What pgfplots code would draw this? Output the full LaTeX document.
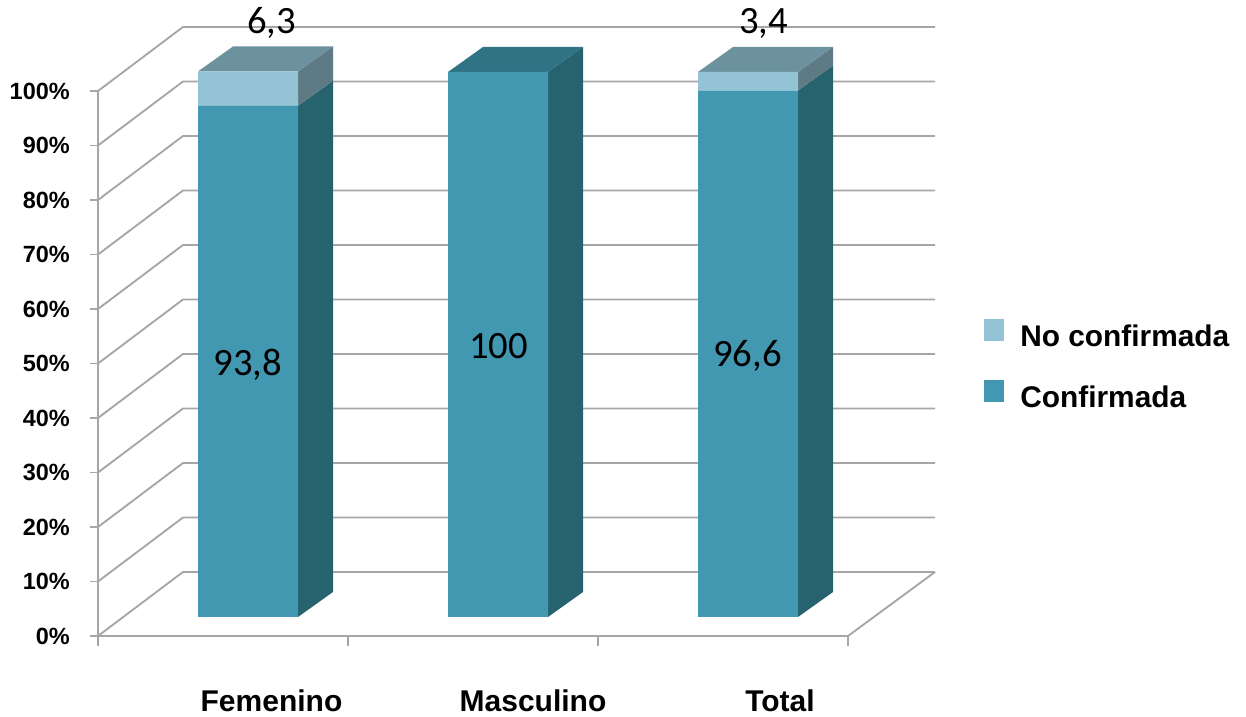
\documentclass[border=0pt]{standalone}
\usepackage{pgfplots}
\pgfplotsset{compat=1.18}
\usepackage{fontspec}
\setmainfont{Liberation Sans}
\newfontfamily\calib{Carlito}
\definecolor{confF}{RGB}{66,151,177}
\definecolor{confS}{RGB}{39,98,111}
\definecolor{confT}{RGB}{48,115,132}
\definecolor{ncF}{RGB}{147,195,213}
\definecolor{ncS}{RGB}{94,123,133}
\definecolor{ncT}{RGB}{108,146,159}
\definecolor{gridc}{RGB}{166,166,166}
\begin{document}
\begin{tikzpicture}
\pgfplotsset{base/.style={hide axis, scale only axis, width=934.5pt, height=537.75pt,
  xmin=0, xmax=1246, ymin=-18.349, ymax=113.211, clip=false}}
\begin{axis}[base]
\path (axis cs:0,-18.349) rectangle (axis cs:1246,113.211);
% walls and floor
\pgfplotsinvokeforeach{0,10,...,100}{
  \draw[gridc, line width=1.4pt] (axis cs:98,{-3.486+#1}) -- (axis cs:183,{8.257+#1}) -- (axis cs:935,{8.257+#1});
  \draw[gridc, line width=1.4pt] (axis cs:90,{-3.486+#1}) -- (axis cs:98,{-3.486+#1});
  \node[anchor=east, inner sep=0pt, font=\bfseries\fontsize{17.6}{20}\selectfont] at (axis cs:70,{-3.486+#1}) {#1\%};
}
\draw[gridc, line width=1.4pt] (axis cs:98,96.514) -- (axis cs:98,-3.486) -- (axis cs:848,-3.486) -- (axis cs:935,8.257);
\pgfplotsinvokeforeach{98,348,598,848}{
  \draw[gridc, line width=1.4pt] (axis cs:#1,-3.486) -- (axis cs:#1,-5.32);
}
% category labels
\node[anchor=base, inner sep=0pt, font=\bfseries\fontsize{22.5}{26}\selectfont] at (axis cs:271.5,-17.43) {Femenino};
\node[anchor=base, inner sep=0pt, font=\bfseries\fontsize{22.5}{26}\selectfont] at (axis cs:533,-17.43) {Masculino};
\node[anchor=base, inner sep=0pt, font=\bfseries\fontsize{22.5}{26}\selectfont] at (axis cs:780,-17.43) {Total};
% legend
\fill[ncF] (axis cs:984,54.68) rectangle (axis cs:1004,50.64);
\fill[confF] (axis cs:984,43.49) rectangle (axis cs:1004,39.45);
\node[anchor=base west, inner sep=0pt, font=\bfseries\fontsize{22.4}{26}\selectfont] at (axis cs:1020,49.54) {No confirmada};
\node[anchor=base west, inner sep=0pt, font=\bfseries\fontsize{22.4}{26}\selectfont] at (axis cs:1020,38.53) {Confirmada};
% side and top faces of the bars
\addplot[fill=confS, draw=none] coordinates {(298,0) (333,4.587) (333,98.387) (298,93.8)} --cycle;
\addplot[fill=ncS, draw=none] coordinates {(298,93.8) (333,98.387) (333,104.687) (298,100.1)} --cycle;
\addplot[fill=ncT, draw=none] coordinates {(198,100.1) (298,100.1) (333,104.687) (233,104.687)} --cycle;
\addplot[fill=confS, draw=none] coordinates {(548,0) (583,4.587) (583,104.587) (548,100)} --cycle;
\addplot[fill=confT, draw=none] coordinates {(448,100) (548,100) (583,104.587) (483,104.587)} --cycle;
\addplot[fill=confS, draw=none] coordinates {(798,0) (833,4.587) (833,101.187) (798,96.6)} --cycle;
\addplot[fill=ncS, draw=none] coordinates {(798,96.6) (833,101.187) (833,104.587) (798,100)} --cycle;
\addplot[fill=ncT, draw=none] coordinates {(698,100) (798,100) (833,104.587) (733,104.587)} --cycle;
\end{axis}
\begin{axis}[base, ybar stacked, bar width=100]
\addplot[fill=confF, draw=none] coordinates {(248,93.8) (498,100) (748,96.6)};
\addplot[fill=ncF, draw=none] coordinates {(248,6.3) (498,0) (748,3.4)};
\end{axis}
\begin{axis}[base]
\node[anchor=base, inner sep=0pt, font=\calib\fontsize{29}{34}\selectfont] at (axis cs:247.7,44.40) {93,8};
\node[anchor=base, inner sep=0pt, font=\calib\fontsize{29}{34}\selectfont] at (axis cs:498.5,47.52) {100};
\node[anchor=base, inner sep=0pt, font=\calib\fontsize{29}{34}\selectfont] at (axis cs:747.5,45.87) {96,6};
\node[anchor=base, inner sep=0pt, font=\calib\fontsize{29}{34}\selectfont] at (axis cs:271.5,107.06) {6,3};
\node[anchor=base, inner sep=0pt, font=\calib\fontsize{29}{34}\selectfont] at (axis cs:763.5,107.06) {3,4};
\end{axis}
\end{tikzpicture}
\end{document}
